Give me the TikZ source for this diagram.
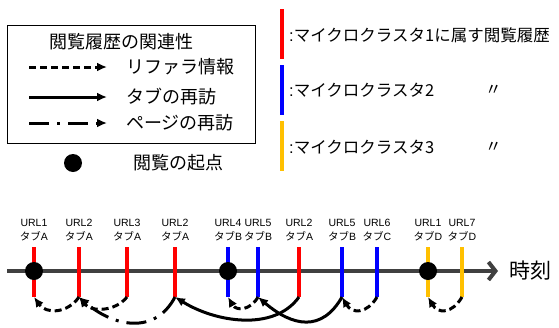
\documentclass[tikz,border=0pt]{standalone}
\usepackage{fontspec}
\setmainfont{Liberation Sans}
\newfontfamily\jp{Noto Sans CJK JP}
\usepackage{xcolor}
\usepackage{tikz}
\usetikzlibrary{calc}
\usetikzlibrary{arrows.meta}

\definecolor{clorange}{RGB}{255,192,0}
\definecolor{axisgray}{RGB}{64,64,64}

\tikzset{
  link/.style={line width=3pt, -{Latex[length=10pt,width=9pt]}},
  referer/.style={link, dash pattern=on 7pt off 4pt},
  tabvisit/.style={link},
  pagevisit/.style={link, dash pattern=on 20pt off 8pt on 3pt off 8pt},
  origin/.style={circle, fill=black, minimum size=18pt, inner sep=0pt},
  urlbar/.style={line width=4.5pt},
  urllabel/.style={align=center, inner sep=0pt, font=\fontsize{10.5}{14}\selectfont},
  jptext/.style={anchor=west, inner sep=1pt, font=\jp\fontsize{18}{20}\selectfont},
  cltext/.style={anchor=west, inner sep=1pt, font=\fontsize{16.5}{18}\selectfont},
}

\begin{document}
\begin{tikzpicture}[x=1pt, y=-1pt]
\useasboundingbox (0,0) rectangle (559,327);
\def \top {247}
\def \bot {297}
\def \axis {271} % height of the time line

% legend
\node[draw, line width=1pt, minimum width=248pt, minimum height=118pt, inner sep=0pt] (legend) at (131,84) {};
\node[font=\jp\fontsize{18}{20}\selectfont] (title) at (121,42) {閲覧履歴の関連性};
\foreach \y/\s/\t [count=\i] in {67/referer/リファラ情報, 97/tabvisit/タブの再訪, 123/pagevisit/ページの再訪}
{
  \coordinate (k\i) at (29,\y);
  \coordinate (e\i) at (107,\y);
  \draw[\s] (k\i) -- (e\i);
  \node[jptext] (n\i) at (125,\y) {\t};
}
\node[origin] (o0) at (73,163) {};
\node[jptext] (n4) at (132,163) {閲覧の起点};

% clusters
\foreach \c/\y/\k in {red/9/1, blue/65/2, clorange/121/3}
  \draw[urlbar, \c] (282,\y) coordinate (m\k) -- (282,\y+50);
\node[cltext] (c1) at (288,35) {:\jp マイクロクラスタ1に属す閲覧履歴};
\node[cltext] (c2) at (288,90) {:\jp マイクロクラスタ2};
\node[cltext] (c3) at (288,147) {:\jp マイクロクラスタ3};
\node[cltext] (d2) at (484,90) {\jp 〃};
\node[cltext] (d3) at (484,147) {\jp 〃};

% time line
\coordinate (t0) at (7,\axis);
\coordinate (t1) at (498,\axis);
\draw[line width=4pt, axisgray, -{Straight Barb[length=7pt,width=18pt]}] (t0) -- (t1);
\node[anchor=west, font=\jp\fontsize{21}{24}\selectfont] (time) at (506,\axis) {時刻};

\foreach \x/\c/\u/\t [count=\i] in {34/red/1/A, 79/red/2/A, 127/red/3/A, 175/red/2/A, 228/blue/4/B, 258/blue/5/B, 299/red/2/A, 342/blue/5/B, 377/blue/6/C, 428/clorange/1/D, 462/clorange/7/D}
{
  \draw[urlbar, \c] (\x,\top) -- (\x,\bot) coordinate (b\i);
  \node[urllabel] (u\i) at (\x,230) {URL\u\\{\jp タブ}\t};
}
\foreach \i in {1,5,10}
  \node[origin] (o\i) at (b\i |- t0) {};

% links between the pages
\draw[referer] (b2) .. controls +(-12,17) and +(12,17) .. (b1);
\draw[referer] (b3) .. controls +(-12,15) and +(12,15) .. (b2);
\draw[pagevisit] (b4) .. controls +(-20,38) and +(35,30) .. (b2);
\draw[tabvisit] (b7) .. controls +(-25,35) and +(40,25) .. (b4);
\draw[tabvisit] (b8) .. controls +(-20,35) and +(35,30) .. (b6);
\draw[referer] (b6) .. controls +(-8,14) and +(8,14) .. (b5);
\draw[referer] (b9) .. controls +(-10,17) and +(10,17) .. (b8);
\draw[referer] (b11) .. controls +(-10,17) and +(10,17) .. (b10);
\end{tikzpicture}
\end{document}
